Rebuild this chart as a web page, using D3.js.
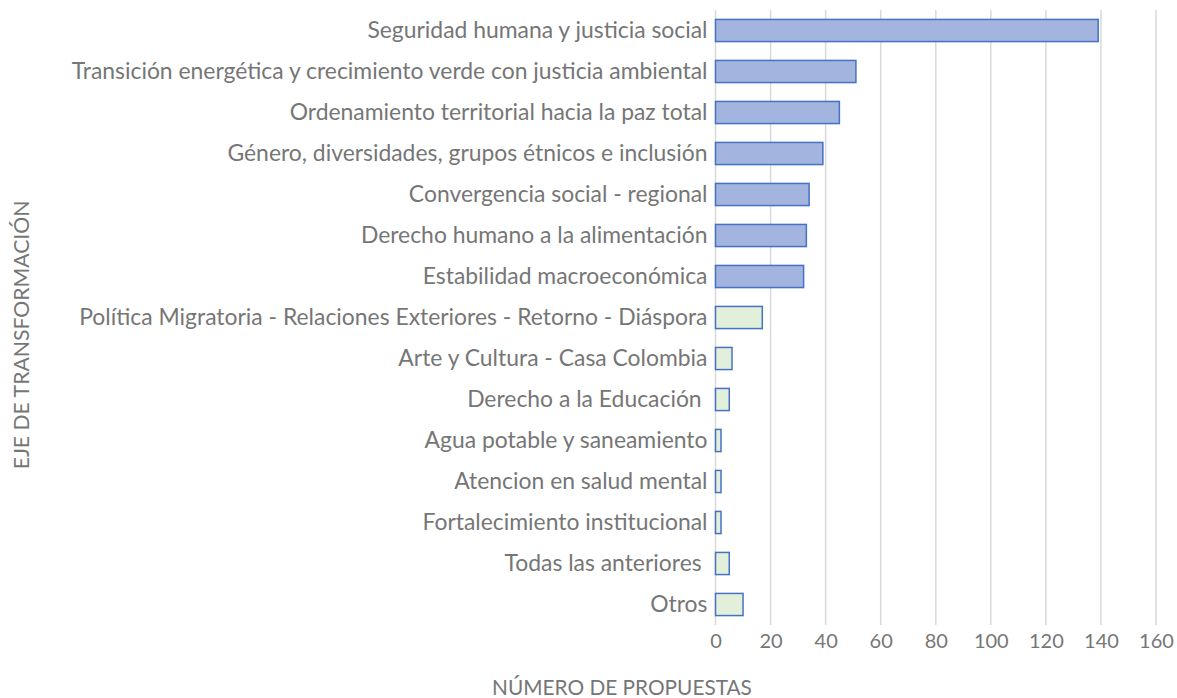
<!DOCTYPE html>
<html>
<head>
<meta charset="utf-8">
<script src="https://cdn.jsdelivr.net/npm/d3@7"></script>
<style>
  body { margin: 0; background: #fff; }
  text { font-family: Lato, "Open Sans", sans-serif; fill: #767676; white-space: pre; }
</style>
</head>
<body>
<div id="chartDiv"></div>
<script>
// data
const categories = [
  "Seguridad humana y justicia social",
  "Transición energética y crecimiento verde con justicia ambiental",
  "Ordenamiento territorial hacia la paz total",
  "Género, diversidades, grupos étnicos e inclusión",
  "Convergencia social - regional",
  "Derecho humano a la alimentación",
  "Estabilidad macroeconómica",
  "Política Migratoria - Relaciones Exteriores - Retorno - Diáspora",
  "Arte y Cultura - Casa Colombia",
  "Derecho a la Educación ",
  "Agua potable y saneamiento",
  "Atencion en salud mental",
  "Fortalecimiento institucional",
  "Todas las anteriores ",
  "Otros"
];
const values = [139, 51, 45, 39, 34, 33, 32, 17, 6, 5, 2, 2, 2, 5, 10];
const groups = ["eje", "eje", "eje", "eje", "eje", "eje", "eje",
  "otro", "otro", "otro", "otro", "otro", "otro", "otro", "otro"];
const xTicks = [0, 20, 40, 60, 80, 100, 120, 140, 160];

var displayChart = function(){
  const canvasW = 1177, canvasH = 698;
  const svg = d3.select('#chartDiv')
    .append('svg')
    .attr('width', canvasW)
    .attr('height', canvasH);

  const margin = {top: 10, right: 21, bottom: 73, left: 715.5};
  const graphWidth = canvasW - margin.left - margin.right;
  const graphHeight = canvasH - margin.top - margin.bottom;

  const graph = svg.append('g')
    .attr('transform', `translate(${margin.left},${margin.top})`);

  //scales
  const x = d3.scaleLinear().domain([0, 160]).range([0, graphWidth]);
  const y = d3.scaleBand().domain(categories).range([0, graphHeight])
    .paddingInner(0.46).paddingOuter(0.23);

  // gridlines
  graph.append('g').selectAll('line')
    .data(xTicks)
    .enter().append('line')
    .attr('x1', d => x(d)).attr('x2', d => x(d))
    .attr('y1', 0).attr('y2', graphHeight)
    .attr('stroke', '#d9d9d9')
    .attr('stroke-width', 1.5);

  const fills = {eje: '#a3b4de', otro: '#e2efda'};

  const data = categories.map((c, i) => ({name: c, value: values[i], group: groups[i]}));

  graph.selectAll('rect.bar')
    .data(data)
    .enter().append('rect')
    .attr('class', 'bar')
    .attr('x', x(0))
    .attr('y', d => y(d.name))
    .attr('width', d => x(d.value) - x(0))
    .attr('height', y.bandwidth())
    .attr('fill', d => fills[d.group])
    .attr('stroke', '#4472c4')
    .attr('stroke-width', 1.5);

  // x axis
  const xAxis = d3.axisBottom(x).tickValues(xTicks).tickSize(0).tickPadding(9);
  const xAxisGroup = graph.append('g')
    .attr('transform', `translate(0, ${graphHeight})`)
    .call(xAxis);
  xAxisGroup.select('.domain').remove();
  xAxisGroup.selectAll('text')
    .style('font-size', '20px')
    .style('font-family', 'Lato, sans-serif')
    .attr('fill', '#767676');

  // y axis
  const yAxis = d3.axisLeft(y).tickSize(0).tickPadding(8);
  const yAxisGroup = graph.append('g').call(yAxis);
  yAxisGroup.select('.domain').remove();
  yAxisGroup.selectAll('text')
    .style('font-size', '22.9px')
    .style('font-family', 'Lato, sans-serif')
    .attr('fill', '#767676');

  // axis titles
  svg.append('text')
    .attr('x', 622)
    .attr('y', 695)
    .attr('text-anchor', 'middle')
    .style('font-size', '20.8px')
    .text('NÚMERO DE PROPUESTAS');

  svg.append('text')
    .attr('transform', 'translate(29, 335) rotate(-90)')
    .attr('text-anchor', 'middle')
    .style('font-size', '21.2px')
    .text('EJE DE TRANSFORMACIÓN');
};

displayChart();
</script>
</body>
</html>
